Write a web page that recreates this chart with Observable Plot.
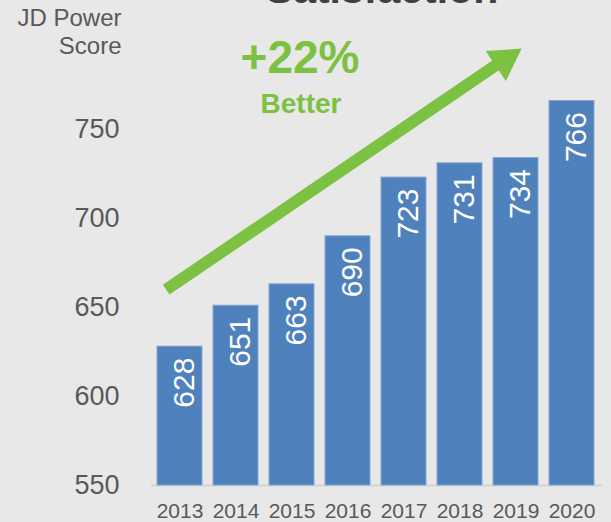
<!DOCTYPE html>
<html>
<head>
<meta charset="utf-8">
<script src="https://cdn.jsdelivr.net/npm/d3@7"></script>
<script src="https://cdn.jsdelivr.net/npm/@observablehq/plot@0.6"></script>
<style>
  html, body { margin: 0; padding: 0; background: #e8e8e8; }
  #chart { width: 611px; height: 522px; overflow: hidden; }
</style>
</head>
<body>
<div id="chart"></div>
<script>
// ---- data ----
const years = ["2013", "2014", "2015", "2016", "2017", "2018", "2019", "2020"];
const scores = [628, 651, 663, 690, 723, 731, 734, 766];
const yTicks = [550, 600, 650, 700, 750];
const baseline = 550;
const yMax = 800;
const titleText = "Satisfaction";
const yLabelText = "JD Power\nScore";
const gainText = "+22%";
const gainSubText = "Better";
// annotation arrow (data units)
const arrowStart = {year: "2013", score: 665.3};
const arrowEnd = {year: "2019", score: 793.8};
const arrowHead = {year: "2019", score: 788.9};
const gainLabel = {year: "2015", score: 789.8};
const gainSubLabel = {year: "2015", score: 764.5};

const data = years.map((year, i) => ({year, score: scores[i]}));

const green = "#7cc142";
const blue = "#4f81bd";
const gray = "#595959";

const chart = Plot.plot({
  width: 611,
  height: 522,
  marginTop: 40,
  marginRight: 4,
  marginBottom: 37,
  marginLeft: 145,
  style: {background: "#e8e8e8", fontFamily: "'Liberation Sans', Arial, sans-serif", overflow: "visible"},
  x: {domain: years, padding: 0.19},
  y: {domain: [baseline, yMax]},
  marks: [
    Plot.ruleY([baseline], {stroke: "#d6d6d6", strokeWidth: 2, insetLeft: 6, insetRight: 4}),
    Plot.barY(data, {x: "year", y1: baseline, y2: "score", fill: blue, stroke: "#85a6d1", strokeWidth: 1}),
    Plot.text(data, {x: "year", y: "score", text: d => String(d.score), rotate: -90, textAnchor: "end",
      dy: 11, dx: 4, fill: "white", fontSize: 30}),
    Plot.axisX({tickSize: 0, tickPadding: 18, fontSize: 21, color: gray, label: null}),
    Plot.axisY({ticks: yTicks, tickSize: 0, tickPadding: 26, fontSize: 27, color: gray, label: null}),
    Plot.arrow([{x1: arrowStart.year, y1: arrowStart.score, x2: arrowEnd.year, y2: arrowEnd.score}], {
      x1: "x1", y1: "y1", x2: "x2", y2: "y2", stroke: green, strokeWidth: 12, headLength: 0,
      insetStart: -16.7, insetEnd: 14, strokeLinecap: "butt"}),
    Plot.dot([arrowHead], {x: "year", y: "score", dx: -11.6, symbol: "triangle", r: 13.4, rotate: 56,
      fill: green, stroke: "none"}),
    Plot.text([gainLabel], {x: "year", y: "score", text: () => gainText, dx: 8, fontSize: 46,
      fontWeight: "bold", fill: green}),
    Plot.text([gainSubLabel], {x: "year", y: "score", text: () => gainSubText, dx: 9, fontSize: 28,
      fontWeight: "bold", fill: green}),
    Plot.text([yLabelText], {frameAnchor: "top-left", textAnchor: "end", lineAnchor: "top", dx: -24, dy: -35,
      fontSize: 24, lineHeight: 1.18, fill: gray, text: d => d}),
    Plot.text([titleText], {frameAnchor: "top", dx: 5.5, dy: -67, fontSize: 41, fontWeight: "bold",
      fill: "#404040", text: d => d})
  ]
});
document.getElementById("chart").appendChild(chart);
</script>
</body>
</html>
